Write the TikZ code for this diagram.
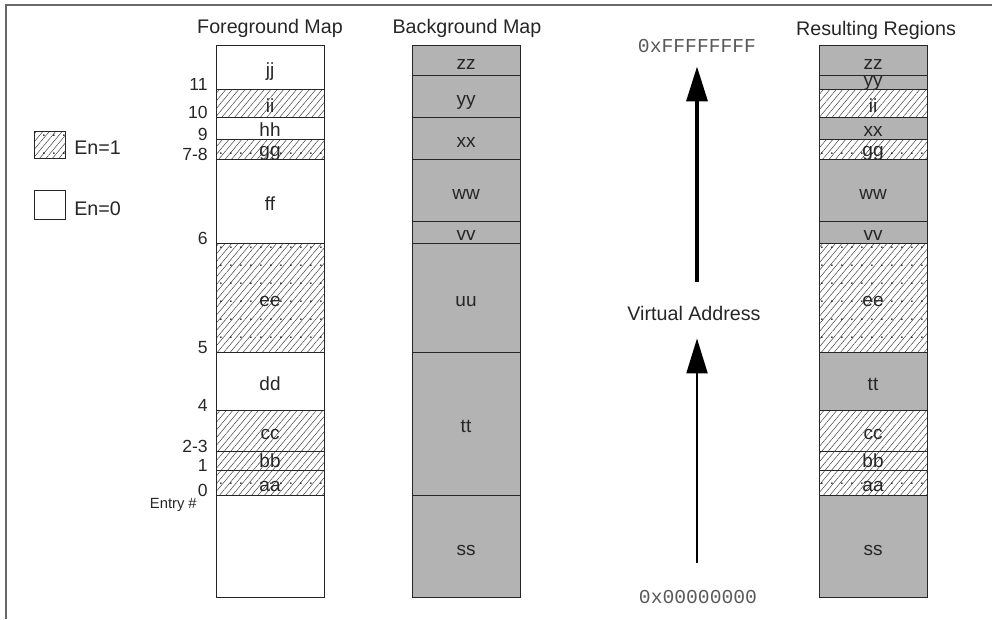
\documentclass[tikz,border=0pt]{standalone}
\usepackage{fontspec}
\setmainfont{Liberation Sans}
\setmonofont{Liberation Mono}
\usetikzlibrary{patterns.meta, arrows.meta, positioning}

\definecolor{cellfill}{RGB}{179,179,179}
\definecolor{framegray}{RGB}{105,105,105}

\tikzdeclarepattern{
  name=dotrows,
  type=uncolored,
  bottom left={(0pt,0pt)},
  top right={(7pt,13pt)},
  tile size={(7pt,13pt)},
  code={\fill (3.5pt,6.5pt) circle [radius=0.65pt];}
}

\tikzset{
  cellwhite/.style={draw=black!85, line width=0.7pt, fill=white},
  cellshade/.style={draw=black!85, line width=0.7pt, fill=cellfill},
  cellhatch/.style={draw=black!85, line width=0.7pt,
    pattern={Lines[angle=50, distance=3.5pt, line width=0.35pt]}, pattern color=black!75},
  celldots/.style={cellhatch, postaction={pattern=dotrows, pattern color=black}},
  celllabel/.style={anchor=base, inner sep=0pt, text=black!85, font=\fontsize{13.5}{15}\selectfont},
  entrylabel/.style={anchor=base east, inner sep=0pt, text=black!85, font=\fontsize{12.5}{14}\selectfont},
  maptitle/.style={anchor=base, inner sep=0pt, text=black!85, font=\fontsize{14}{16}\selectfont},
  hexlabel/.style={anchor=base, inner sep=0pt, text=black!65, font=\ttfamily\fontsize{14}{16}\selectfont},
  addrarrow/.style={draw=black, -{Triangle[length=0.875cm, width=0.525cm]}}
}

\begin{document}
\begin{tikzpicture}[x=0.025cm, y=-0.025cm]
    \useasboundingbox (0,0) rectangle (992,619);
    \draw[framegray, line width=1.4pt] (6,619) -- (6,5) -- (992,5);

    % legend
    \draw[celldots] (34,131) rectangle (65,158);
    \node[maptitle, anchor=base west] (en1) at (74,154) {En=1};
    \draw[cellwhite] (34,190) rectangle (65,219);
    \node[maptitle, anchor=base west] (en0) at (74,215) {En=0};

    % foreground map
    \node[maptitle] (fgtitle) at (270,33) {Foreground Map};
    \foreach \t/\b/\n/\s [count=\k] in {45/89/jj/cellwhite, 89/117/ii/cellhatch, 117/139/hh/cellwhite,
        139/159/gg/celldots, 159/243/ff/cellwhite, 243/352/ee/celldots, 352/410/dd/cellwhite,
        410/451/cc/cellhatch, 451/470/bb/cellhatch, 470/495/aa/celldots, 495/597//cellwhite}
    {
        \draw[\s] (216,\t) rectangle (324,\b);
        \node[celllabel] (fg-\k) at (270,{min((\t+\b)/2+9,\b-3)}) {\n};
    }
    \foreach \y/\n in {89/11, 117/10, 139/9, 159/7-8, 243/6, 352/5, 410/4, 451/2-3, 470/1, 495/0}
        \node[entrylabel] (num-\n) at (208,\y+1) {\n};
    \node[entrylabel, font=\fontsize{10.5}{12}\selectfont] (entry) at (197,508) {Entry \#};

    % background map
    \node[maptitle] (bgtitle) at (467,33) {Background Map};
    \foreach \t/\b/\n [count=\k] in {45/75/zz, 75/117/yy, 117/159/xx, 159/221/ww,
        221/243/vv, 243/352/uu, 352/495/tt, 495/597/ss}
    {
        \draw[cellshade] (412,\t) rectangle (520,\b);
        \node[celllabel] (bg-\k) at (466,{min((\t+\b)/2+9,\b-3)}) {\n};
    }

    % virtual address
    \node[hexlabel] (top) at (697,52) {0xFFFFFFFF};
    \node[maptitle] (va) at (694,320) {Virtual Address};
    \node[hexlabel] (bottom) at (698,603) {0x00000000};
    \draw[addrarrow, line width=2.5pt, shorten <=0.59cm, shorten >=0.35cm]
        (top.south |- va.north) -- (top.south);
    \draw[addrarrow, line width=1.6pt, shorten <=0.675cm, shorten >=0.45cm]
        (top.south |- bottom.north) -- (top.south |- va.south);

    % resulting regions
    \node[maptitle] (restitle) at (876,35) {Resulting Regions};
    \foreach \t/\b/\n/\s [count=\k] in {45/75/zz/cellshade, 75/89/yy/cellshade, 89/117/ii/cellhatch,
        117/139/xx/cellshade, 139/159/gg/celldots, 159/221/ww/cellshade, 221/243/vv/cellshade,
        243/352/ee/celldots, 352/410/tt/cellshade, 410/451/cc/cellhatch, 451/470/bb/cellhatch,
        470/495/aa/celldots, 495/597/ss/cellshade}
    {
        \draw[\s] (819,\t) rectangle (927,\b);
        \node[celllabel] (res-\k) at (873,{min((\t+\b)/2+9,\b-3)}) {\n};
    }
\end{tikzpicture}
\end{document}
